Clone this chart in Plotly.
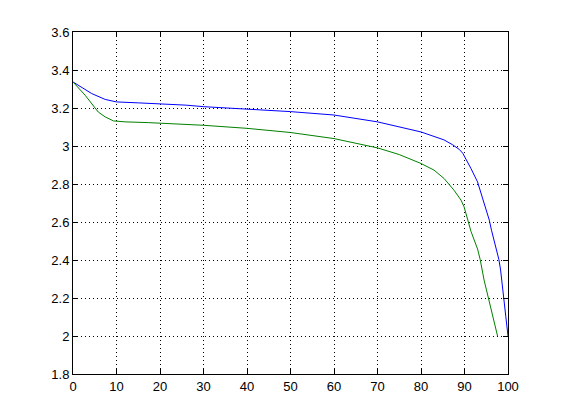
import plotly.graph_objects as go

blue_x = [0, 2, 4.3, 7.4, 10, 15, 21, 26, 30, 40, 50, 60, 70, 80, 82.5, 85.3, 87.3, 88.8, 89.6,
          90.5, 91.5, 93, 94.5, 95.7, 96.2, 97.4, 97.9, 98.3, 98.9, 99.5, 100]
blue_y = [3.337, 3.307, 3.276, 3.245, 3.232, 3.227, 3.222, 3.215, 3.207, 3.195, 3.181, 3.163,
          3.127, 3.074, 3.056, 3.032, 3.006, 2.982, 2.962, 2.925, 2.881, 2.811, 2.697, 2.61,
          2.557, 2.452, 2.403, 2.347, 2.206, 2.101, 2.0]

green_x = [0, 2.8, 5.8, 7.4, 9.3, 12, 17.4, 25.8, 30, 40, 50, 60, 70, 75, 80, 83, 85.3, 87.6,
           89.2, 89.9, 90.7, 91.5, 93, 93.6, 94.5, 95.5, 96.8, 97.6]
green_y = [3.337, 3.267, 3.179, 3.153, 3.132, 3.127, 3.123, 3.114, 3.109, 3.093, 3.071, 3.039,
           2.99, 2.955, 2.908, 2.873, 2.829, 2.767, 2.715, 2.68, 2.615, 2.55, 2.458, 2.403,
           2.294, 2.198, 2.067, 2.0]

x_ticks = [0, 10, 20, 30, 40, 50, 60, 70, 80, 90, 100]
y_ticks = [1.8, 2.0, 2.2, 2.4, 2.6, 2.8, 3.0, 3.2, 3.4, 3.6]
y_tick_text = ["1.8", "2", "2.2", "2.4", "2.6", "2.8", "3", "3.2", "3.4", "3.6"]

fig = go.Figure()
fig.add_trace(go.Scatter(x=blue_x, y=blue_y, mode="lines",
                         line=dict(color="rgb(0,0,255)", width=1), showlegend=False))
fig.add_trace(go.Scatter(x=green_x, y=green_y, mode="lines",
                         line=dict(color="rgb(0,128,0)", width=1), showlegend=False))

axis_common = dict(
    showline=True, linecolor="black", linewidth=1, mirror="ticks",
    ticks="inside", ticklen=5, tickwidth=1, tickcolor="black",
    showgrid=True, gridcolor="black", gridwidth=1, griddash="1px,3px",
    zeroline=False,
    tickfont=dict(family="Liberation Sans, Arial, sans-serif", size=13, color="black"),
)

fig.update_xaxes(range=[0, 100], tickvals=x_ticks, ticktext=[str(v) for v in x_ticks],
                 **axis_common)
fig.update_yaxes(range=[1.8, 3.6], tickvals=y_ticks, ticktext=y_tick_text, **axis_common)

# page body has an 8px default margin; figure is sized/offset to compensate
fig.update_layout(
    width=545, height=404,
    margin=dict(l=65, r=45, t=24, b=38),
    paper_bgcolor="white", plot_bgcolor="white",
)

fig.write_html("out.html")
